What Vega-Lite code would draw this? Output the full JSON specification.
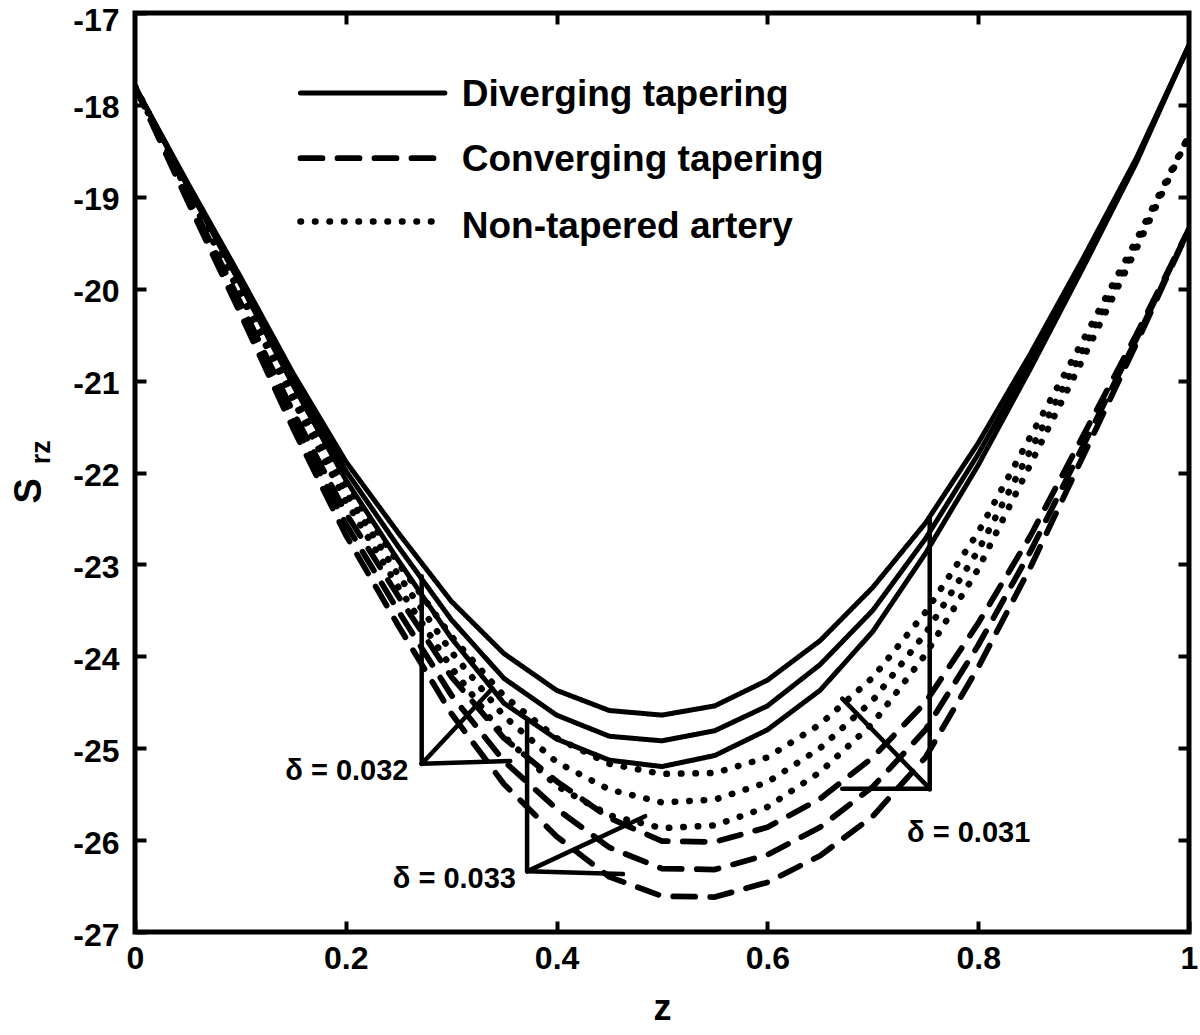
{
  "$schema": "https://vega.github.io/schema/vega-lite/v6.json",
  "width": 1054,
  "height": 919,
  "autosize": {"type": "none"},
  "padding": {"left": 135, "top": 13, "right": 11, "bottom": 103},
  "background": "white",
  "config": {
    "view": {"stroke": "black", "strokeWidth": 5},
    "font": "Liberation Sans",
    "axis": {
      "domain": false, "grid": false, "tickColor": "black", "tickWidth": 4, "tickSize": -11,
      "labelFont": "Liberation Sans", "labelFontWeight": "bold", "labelFontSize": 32, "labelColor": "black",
      "titleFont": "Liberation Sans", "titleFontWeight": "bold", "titleColor": "black"
    }
  },
  "datasets": {
    "curves": [
      {"c":"D1","f":"D","z":0,"s":-17.80},{"c":"D1","f":"D","z":0.05,"s":-18.85},{"c":"D1","f":"D","z":0.1,"s":-19.87},{"c":"D1","f":"D","z":0.15,"s":-20.92},{"c":"D1","f":"D","z":0.2,"s":-21.88},{"c":"D1","f":"D","z":0.25,"s":-22.66},{"c":"D1","f":"D","z":0.3,"s":-23.40},{"c":"D1","f":"D","z":0.35,"s":-23.97},{"c":"D1","f":"D","z":0.4,"s":-24.37},{"c":"D1","f":"D","z":0.45,"s":-24.59},{"c":"D1","f":"D","z":0.5,"s":-24.64},{"c":"D1","f":"D","z":0.55,"s":-24.54},{"c":"D1","f":"D","z":0.6,"s":-24.26},{"c":"D1","f":"D","z":0.65,"s":-23.83},{"c":"D1","f":"D","z":0.7,"s":-23.25},{"c":"D1","f":"D","z":0.75,"s":-22.55},{"c":"D1","f":"D","z":0.8,"s":-21.68},{"c":"D1","f":"D","z":0.85,"s":-20.70},{"c":"D1","f":"D","z":0.9,"s":-19.66},{"c":"D1","f":"D","z":0.95,"s":-18.58},{"c":"D1","f":"D","z":1,"s":-17.35},
      {"c":"D2","f":"D","z":0,"s":-17.80},{"c":"D2","f":"D","z":0.05,"s":-18.87},{"c":"D2","f":"D","z":0.1,"s":-19.91},{"c":"D2","f":"D","z":0.15,"s":-20.99},{"c":"D2","f":"D","z":0.2,"s":-21.98},{"c":"D2","f":"D","z":0.25,"s":-22.81},{"c":"D2","f":"D","z":0.3,"s":-23.60},{"c":"D2","f":"D","z":0.35,"s":-24.24},{"c":"D2","f":"D","z":0.4,"s":-24.64},{"c":"D2","f":"D","z":0.45,"s":-24.87},{"c":"D2","f":"D","z":0.5,"s":-24.92},{"c":"D2","f":"D","z":0.55,"s":-24.81},{"c":"D2","f":"D","z":0.6,"s":-24.54},{"c":"D2","f":"D","z":0.65,"s":-24.09},{"c":"D2","f":"D","z":0.7,"s":-23.50},{"c":"D2","f":"D","z":0.75,"s":-22.72},{"c":"D2","f":"D","z":0.8,"s":-21.80},{"c":"D2","f":"D","z":0.85,"s":-20.78},{"c":"D2","f":"D","z":0.9,"s":-19.71},{"c":"D2","f":"D","z":0.95,"s":-18.60},{"c":"D2","f":"D","z":1,"s":-17.35},
      {"c":"D3","f":"D","z":0,"s":-17.80},{"c":"D3","f":"D","z":0.05,"s":-18.89},{"c":"D3","f":"D","z":0.1,"s":-19.95},{"c":"D3","f":"D","z":0.15,"s":-21.05},{"c":"D3","f":"D","z":0.2,"s":-22.08},{"c":"D3","f":"D","z":0.25,"s":-22.96},{"c":"D3","f":"D","z":0.3,"s":-23.80},{"c":"D3","f":"D","z":0.35,"s":-24.51},{"c":"D3","f":"D","z":0.4,"s":-24.90},{"c":"D3","f":"D","z":0.45,"s":-25.13},{"c":"D3","f":"D","z":0.5,"s":-25.20},{"c":"D3","f":"D","z":0.55,"s":-25.08},{"c":"D3","f":"D","z":0.6,"s":-24.80},{"c":"D3","f":"D","z":0.65,"s":-24.37},{"c":"D3","f":"D","z":0.7,"s":-23.73},{"c":"D3","f":"D","z":0.75,"s":-22.88},{"c":"D3","f":"D","z":0.8,"s":-21.92},{"c":"D3","f":"D","z":0.85,"s":-20.86},{"c":"D3","f":"D","z":0.9,"s":-19.76},{"c":"D3","f":"D","z":0.95,"s":-18.63},{"c":"D3","f":"D","z":1,"s":-17.35},
      {"c":"N1","f":"N","z":0,"s":-17.80},{"c":"N1","f":"N","z":0.05,"s":-18.91},{"c":"N1","f":"N","z":0.1,"s":-19.98},{"c":"N1","f":"N","z":0.15,"s":-21.09},{"c":"N1","f":"N","z":0.2,"s":-22.13},{"c":"N1","f":"N","z":0.25,"s":-22.99},{"c":"N1","f":"N","z":0.3,"s":-23.78},{"c":"N1","f":"N","z":0.35,"s":-24.43},{"c":"N1","f":"N","z":0.4,"s":-24.89},{"c":"N1","f":"N","z":0.45,"s":-25.17},{"c":"N1","f":"N","z":0.5,"s":-25.28},{"c":"N1","f":"N","z":0.55,"s":-25.27},{"c":"N1","f":"N","z":0.6,"s":-25.10},{"c":"N1","f":"N","z":0.65,"s":-24.74},{"c":"N1","f":"N","z":0.7,"s":-24.23},{"c":"N1","f":"N","z":0.75,"s":-23.52},{"c":"N1","f":"N","z":0.8,"s":-22.65},{"c":"N1","f":"N","z":0.85,"s":-21.60},{"c":"N1","f":"N","z":0.9,"s":-20.55},{"c":"N1","f":"N","z":0.95,"s":-19.47},{"c":"N1","f":"N","z":1,"s":-18.33},
      {"c":"N2","f":"N","z":0,"s":-17.80},{"c":"N2","f":"N","z":0.05,"s":-18.93},{"c":"N2","f":"N","z":0.1,"s":-20.02},{"c":"N2","f":"N","z":0.15,"s":-21.15},{"c":"N2","f":"N","z":0.2,"s":-22.22},{"c":"N2","f":"N","z":0.25,"s":-23.12},{"c":"N2","f":"N","z":0.3,"s":-23.95},{"c":"N2","f":"N","z":0.35,"s":-24.65},{"c":"N2","f":"N","z":0.4,"s":-25.15},{"c":"N2","f":"N","z":0.45,"s":-25.45},{"c":"N2","f":"N","z":0.5,"s":-25.59},{"c":"N2","f":"N","z":0.55,"s":-25.56},{"c":"N2","f":"N","z":0.6,"s":-25.37},{"c":"N2","f":"N","z":0.65,"s":-25.00},{"c":"N2","f":"N","z":0.7,"s":-24.48},{"c":"N2","f":"N","z":0.75,"s":-23.75},{"c":"N2","f":"N","z":0.8,"s":-22.85},{"c":"N2","f":"N","z":0.85,"s":-21.75},{"c":"N2","f":"N","z":0.9,"s":-20.65},{"c":"N2","f":"N","z":0.95,"s":-19.52},{"c":"N2","f":"N","z":1,"s":-18.33},
      {"c":"N3","f":"N","z":0,"s":-17.80},{"c":"N3","f":"N","z":0.05,"s":-18.95},{"c":"N3","f":"N","z":0.1,"s":-20.06},{"c":"N3","f":"N","z":0.15,"s":-21.21},{"c":"N3","f":"N","z":0.2,"s":-22.31},{"c":"N3","f":"N","z":0.25,"s":-23.25},{"c":"N3","f":"N","z":0.3,"s":-24.12},{"c":"N3","f":"N","z":0.35,"s":-24.87},{"c":"N3","f":"N","z":0.4,"s":-25.41},{"c":"N3","f":"N","z":0.45,"s":-25.73},{"c":"N3","f":"N","z":0.5,"s":-25.87},{"c":"N3","f":"N","z":0.55,"s":-25.84},{"c":"N3","f":"N","z":0.6,"s":-25.64},{"c":"N3","f":"N","z":0.65,"s":-25.26},{"c":"N3","f":"N","z":0.7,"s":-24.73},{"c":"N3","f":"N","z":0.75,"s":-23.98},{"c":"N3","f":"N","z":0.8,"s":-23.05},{"c":"N3","f":"N","z":0.85,"s":-21.90},{"c":"N3","f":"N","z":0.9,"s":-20.75},{"c":"N3","f":"N","z":0.95,"s":-19.57},{"c":"N3","f":"N","z":1,"s":-18.33},
      {"c":"C1","f":"C","z":0,"s":-17.80},{"c":"C1","f":"C","z":0.05,"s":-18.99},{"c":"C1","f":"C","z":0.1,"s":-20.15},{"c":"C1","f":"C","z":0.15,"s":-21.34},{"c":"C1","f":"C","z":0.2,"s":-22.44},{"c":"C1","f":"C","z":0.25,"s":-23.35},{"c":"C1","f":"C","z":0.3,"s":-24.22},{"c":"C1","f":"C","z":0.35,"s":-24.89},{"c":"C1","f":"C","z":0.4,"s":-25.36},{"c":"C1","f":"C","z":0.45,"s":-25.76},{"c":"C1","f":"C","z":0.5,"s":-26.01},{"c":"C1","f":"C","z":0.55,"s":-26.02},{"c":"C1","f":"C","z":0.6,"s":-25.86},{"c":"C1","f":"C","z":0.65,"s":-25.55},{"c":"C1","f":"C","z":0.7,"s":-25.10},{"c":"C1","f":"C","z":0.75,"s":-24.50},{"c":"C1","f":"C","z":0.8,"s":-23.64},{"c":"C1","f":"C","z":0.85,"s":-22.68},{"c":"C1","f":"C","z":0.9,"s":-21.59},{"c":"C1","f":"C","z":0.95,"s":-20.50},{"c":"C1","f":"C","z":1,"s":-19.35},
      {"c":"C2","f":"C","z":0,"s":-17.80},{"c":"C2","f":"C","z":0.05,"s":-19.02},{"c":"C2","f":"C","z":0.1,"s":-20.21},{"c":"C2","f":"C","z":0.15,"s":-21.43},{"c":"C2","f":"C","z":0.2,"s":-22.56},{"c":"C2","f":"C","z":0.25,"s":-23.51},{"c":"C2","f":"C","z":0.3,"s":-24.42},{"c":"C2","f":"C","z":0.35,"s":-25.14},{"c":"C2","f":"C","z":0.4,"s":-25.66},{"c":"C2","f":"C","z":0.45,"s":-26.08},{"c":"C2","f":"C","z":0.5,"s":-26.31},{"c":"C2","f":"C","z":0.55,"s":-26.32},{"c":"C2","f":"C","z":0.6,"s":-26.16},{"c":"C2","f":"C","z":0.65,"s":-25.86},{"c":"C2","f":"C","z":0.7,"s":-25.42},{"c":"C2","f":"C","z":0.75,"s":-24.80},{"c":"C2","f":"C","z":0.8,"s":-23.88},{"c":"C2","f":"C","z":0.85,"s":-22.85},{"c":"C2","f":"C","z":0.9,"s":-21.70},{"c":"C2","f":"C","z":0.95,"s":-20.55},{"c":"C2","f":"C","z":1,"s":-19.35},
      {"c":"C3","f":"C","z":0,"s":-17.80},{"c":"C3","f":"C","z":0.05,"s":-19.05},{"c":"C3","f":"C","z":0.1,"s":-20.27},{"c":"C3","f":"C","z":0.15,"s":-21.52},{"c":"C3","f":"C","z":0.2,"s":-22.68},{"c":"C3","f":"C","z":0.25,"s":-23.67},{"c":"C3","f":"C","z":0.3,"s":-24.62},{"c":"C3","f":"C","z":0.35,"s":-25.39},{"c":"C3","f":"C","z":0.4,"s":-25.96},{"c":"C3","f":"C","z":0.45,"s":-26.40},{"c":"C3","f":"C","z":0.5,"s":-26.61},{"c":"C3","f":"C","z":0.55,"s":-26.62},{"c":"C3","f":"C","z":0.6,"s":-26.46},{"c":"C3","f":"C","z":0.65,"s":-26.17},{"c":"C3","f":"C","z":0.7,"s":-25.74},{"c":"C3","f":"C","z":0.75,"s":-25.10},{"c":"C3","f":"C","z":0.8,"s":-24.12},{"c":"C3","f":"C","z":0.85,"s":-23.02},{"c":"C3","f":"C","z":0.9,"s":-21.81},{"c":"C3","f":"C","z":0.95,"s":-20.60},{"c":"C3","f":"C","z":1,"s":-19.35}
    ],
    "legendLines": [
      {"f":"D","z":0.157,"s":-17.87},{"f":"D","z":0.294,"s":-17.87},
      {"f":"C","z":0.157,"s":-18.58},{"f":"C","z":0.294,"s":-18.58},
      {"f":"N","z":0.157,"s":-19.27},{"f":"N","z":0.294,"s":-19.27}
    ],
    "legendText": [
      {"t":"Diverging tapering","z":0.31,"s":-17.89},
      {"t":"Converging tapering","z":0.31,"s":-18.6},
      {"t":"Non-tapered artery","z":0.31,"s":-19.33}
    ],
    "annot": [
      {"g":"a1","z":0.272,"s":-23.13},{"g":"a1","z":0.272,"s":-25.17},
      {"g":"a2","z":0.272,"s":-25.17},{"g":"a2","z":0.339,"s":-24.35},
      {"g":"a3","z":0.272,"s":-25.17},{"g":"a3","z":0.356,"s":-25.14},
      {"g":"b1","z":0.372,"s":-24.68},{"g":"b1","z":0.372,"s":-26.34},
      {"g":"b2","z":0.372,"s":-26.34},{"g":"b2","z":0.484,"s":-25.74},
      {"g":"b3","z":0.372,"s":-26.34},{"g":"b3","z":0.463,"s":-26.37},
      {"g":"c1","z":0.754,"s":-22.5},{"g":"c1","z":0.754,"s":-25.45},
      {"g":"c2","z":0.671,"s":-25.44},{"g":"c2","z":0.754,"s":-25.44},
      {"g":"c3","z":0.671,"s":-24.46},{"g":"c3","z":0.754,"s":-25.44}
    ],
    "labels": [
      {"t":"δ = 0.032","z":0.201,"s":-25.25},
      {"t":"δ = 0.033","z":0.303,"s":-26.42},
      {"t":"δ = 0.031","z":0.791,"s":-25.92}
    ],
    "ytitle": [
      {"t":"S","z":-0.0996,"s":-22.2,"k":"main"},
      {"t":"rz","z":-0.088,"s":-21.78,"k":"sub"}
    ]
  },
  "resolve": {"axis": {"x": "independent", "y": "independent"}},
  "layer": [
    {
      "data": {"name": "curves"},
      "mark": {"type": "line", "color": "black", "strokeCap": "round", "strokeJoin": "round", "clip": true},
      "encoding": {
        "x": {"field": "z", "type": "quantitative", "scale": {"domain": [0, 1], "nice": false, "zero": false},
              "axis": {"orient": "bottom", "values": [0, 0.2, 0.4, 0.6, 0.8, 1], "format": "~g", "labelPadding": 22, "title": "z", "titleFontSize": 36, "titlePadding": 17, "labelFlush": false}},
        "y": {"field": "s", "type": "quantitative", "scale": {"domain": [-27, -17], "nice": false, "zero": false},
              "axis": {"orient": "left", "values": [-27, -26, -25, -24, -23, -22, -21, -20, -19, -18, -17], "labelExpr": "datum.value + ''", "labelPadding": 27,
                       "labelOffset": {"condition": {"test": "datum.value == -17", "value": 7}, "value": 3}, "title": null, "labelFlush": false}},
        "detail": {"field": "c"},
        "strokeDash": {"field": "f", "type": "nominal", "scale": {"domain": ["D", "C", "N"], "range": [[1, 0], [22, 15], [0.5, 14]]}, "legend": null},
        "strokeWidth": {"field": "f", "type": "nominal", "scale": {"domain": ["D", "C", "N"], "range": [5, 6.5, 7]}, "legend": null}
      }
    },
    {
      "data": {"name": "annot"},
      "mark": {"type": "line", "strokeWidth": 4.5, "color": "black", "strokeCap": "round", "strokeJoin": "round"},
      "encoding": {
        "x": {"field": "z", "type": "quantitative", "axis": {"orient": "top", "values": [0.2, 0.4, 0.6, 0.8], "labels": false, "title": null}},
        "y": {"field": "s", "type": "quantitative", "axis": {"orient": "right", "values": [-26, -25, -24, -23, -22, -21, -20, -19, -18], "labels": false, "title": null}},
        "detail": {"field": "g"}
      }
    },
    {
      "data": {"name": "legendLines"},
      "mark": {"type": "line", "color": "black", "strokeCap": "round"},
      "encoding": {
        "x": {"field": "z", "type": "quantitative", "axis": null},
        "y": {"field": "s", "type": "quantitative", "axis": null},
        "detail": {"field": "f"},
        "strokeDash": {"field": "f", "type": "nominal", "legend": null},
        "strokeWidth": {"field": "f", "type": "nominal", "legend": null}
      }
    },
    {
      "data": {"name": "legendText"},
      "mark": {"type": "text", "align": "left", "baseline": "middle", "fontSize": 37, "fontWeight": "bold", "font": "Liberation Sans", "color": "black"},
      "encoding": {
        "x": {"field": "z", "type": "quantitative", "axis": null},
        "y": {"field": "s", "type": "quantitative", "axis": null},
        "text": {"field": "t"}
      }
    },
    {
      "data": {"name": "labels"},
      "mark": {"type": "text", "align": "center", "baseline": "middle", "fontSize": 29, "fontWeight": "bold", "font": "Liberation Sans", "color": "black"},
      "encoding": {
        "x": {"field": "z", "type": "quantitative", "axis": null},
        "y": {"field": "s", "type": "quantitative", "axis": null},
        "text": {"field": "t"}
      }
    },
    {
      "data": {"name": "ytitle"},
      "transform": [{"filter": "datum.k == 'main'"}],
      "mark": {"type": "text", "align": "center", "baseline": "middle", "fontSize": 38, "fontWeight": "bold", "font": "Liberation Sans", "color": "black", "angle": 270},
      "encoding": {
        "x": {"field": "z", "type": "quantitative", "axis": null},
        "y": {"field": "s", "type": "quantitative", "axis": null},
        "text": {"field": "t"}
      }
    },
    {
      "data": {"name": "ytitle"},
      "transform": [{"filter": "datum.k == 'sub'"}],
      "mark": {"type": "text", "align": "center", "baseline": "middle", "fontSize": 27, "fontWeight": "bold", "font": "Liberation Sans", "color": "black", "angle": 270},
      "encoding": {
        "x": {"field": "z", "type": "quantitative", "axis": null},
        "y": {"field": "s", "type": "quantitative", "axis": null},
        "text": {"field": "t"}
      }
    }
  ]
}
